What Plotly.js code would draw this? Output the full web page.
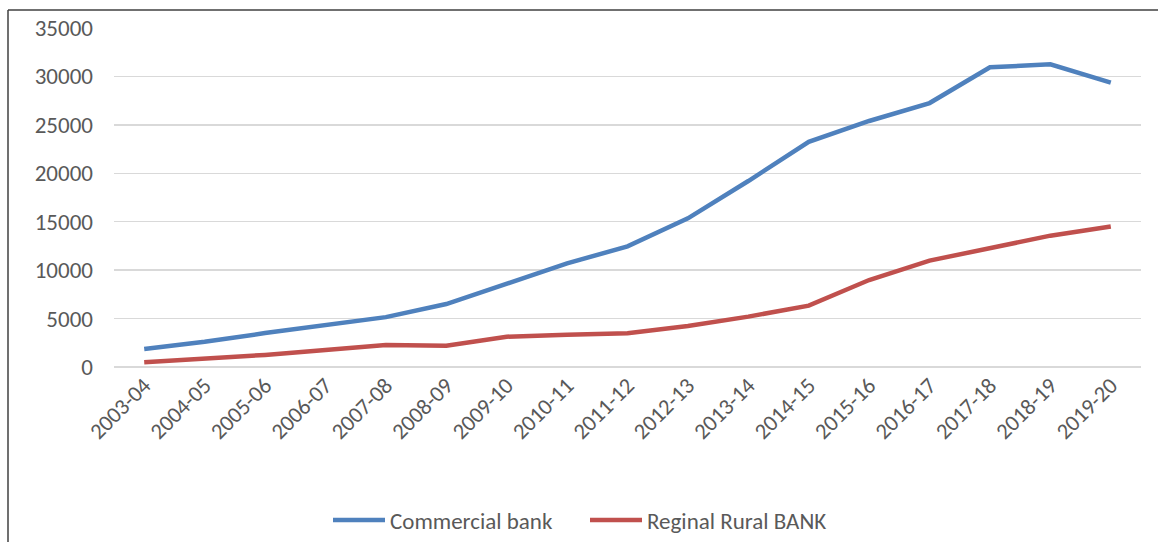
<!DOCTYPE html>
<html>
<head>
<meta charset="utf-8">
<script src="https://cdn.plot.ly/plotly-3.0.1.min.js"></script>
<style>html,body{margin:0;padding:0;background:#fff;}#chart{width:1158px;height:542px;}</style>
</head>
<body>
<div id="chart"></div>
<script>
const years = ["2003-04","2004-05","2005-06","2006-07","2007-08","2008-09","2009-10","2010-11","2011-12","2012-13","2013-14","2014-15","2015-16","2016-17","2017-18","2018-19","2019-20"];
const commercialBank = [1850,2600,3500,4300,5150,6500,8600,10700,12450,15350,19200,23250,25400,27250,30950,31250,29350];
const regionalRuralBank = [490,850,1250,1750,2270,2200,3130,3330,3480,4230,5200,6330,8980,10980,12250,13560,14500];

const FONT = "Carlito, 'Open Sans', 'Liberation Sans', sans-serif";

const traces = [
  {x: years, y: commercialBank, type: 'scatter', mode: 'lines', name: 'Commercial bank',
   line: {color: '#4F81BD', width: 4.5}},
  {x: years, y: regionalRuralBank, type: 'scatter', mode: 'lines', name: 'Reginal Rural BANK',
   line: {color: '#C0504D', width: 4.5}}
];

const layout = {
  width: 1158, height: 542,
  margin: {l: 114, r: 17, t: 28, b: 175, autoexpand: false},
  paper_bgcolor: '#ffffff', plot_bgcolor: '#ffffff',
  font: {family: FONT, color: '#595959', size: 22},
  showlegend: true,
  legend: {orientation: 'h', xref: 'container', x: 328/1158, xanchor: 'left',
           yref: 'container', y: (542-520)/542, yanchor: 'middle',
           entrywidth: 190, entrywidthmode: 'pixels',
           font: {size: 23, color: '#595959'}, itemwidth: 52},
  xaxis: {type: 'category', range: [-0.5, 16.5], tickangle: -45, showgrid: false, zeroline: false, automargin: false,
          showline: false, ticks: '', tickfont: {size: 22.5, color: '#595959'}},
  yaxis: {range: [0, 35000], dtick: 5000, tick0: 0, tickformat: 'd', automargin: false,
          showgrid: true, gridcolor: '#D9D9D9', gridwidth: 1.5,
          zeroline: true, zerolinecolor: '#D9D9D9', zerolinewidth: 1.5, showline: false, ticks: '',
          ticklabelstandoff: 20, tickfont: {size: 23, color: '#595959'}},
  shapes: [
    {type: 'line', xref: 'paper', yref: 'paper', x0: (8-114)/1027, x1: (1160-114)/1027,
     y0: (367-10)/339, y1: (367-10)/339, line: {color: '#404040', width: 1.5}},
    {type: 'line', xref: 'paper', yref: 'paper', x0: (8-114)/1027, x1: (8-114)/1027,
     y0: (367-10)/339, y1: (367-545)/339, line: {color: '#404040', width: 1.5}}
  ]
};

Plotly.newPlot('chart', traces, layout, {displayModeBar: false, staticPlot: true});
</script>
</body>
</html>
